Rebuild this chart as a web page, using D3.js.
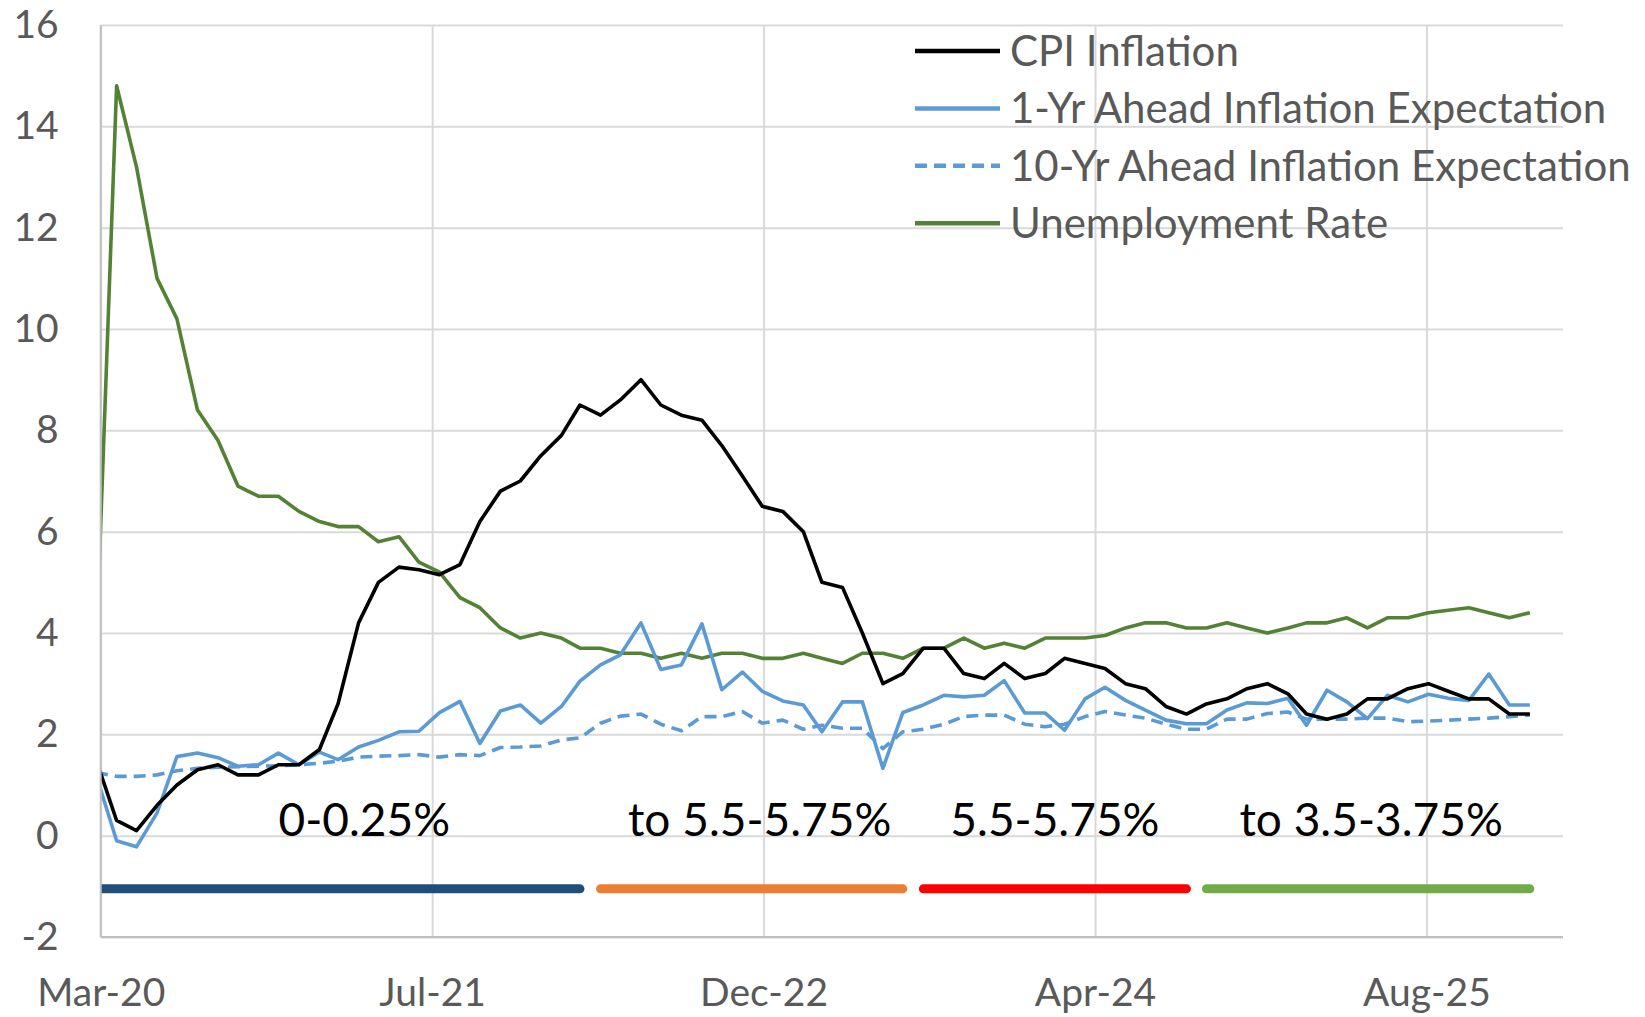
<!DOCTYPE html>
<html lang="en">
<head>
<meta charset="utf-8">
<title>CPI inflation, inflation expectations and unemployment</title>
<script src="https://cdn.jsdelivr.net/npm/d3@7"></script>
<style>
  body { margin: 0; background: #fff; }
  text { font-family: Lato, "Open Sans", sans-serif; }
</style>
</head>
<body>
<script>
// monthly observations, Mar 2020 .. Feb 2026 (72 months)
var months = d3.timeMonth.range(new Date(2020, 2, 1), new Date(2026, 2, 1));

var cpi = [1.5, 0.3, 0.1, 0.6, 1.0, 1.3, 1.4, 1.2, 1.2, 1.4,
    1.4, 1.7, 2.6, 4.2, 5.0, 5.3, 5.25, 5.15, 5.35, 6.2, 6.8, 7.0,
    7.5, 7.9, 8.5, 8.3, 8.6, 9.0, 8.5, 8.3, 8.2, 7.7, 7.1, 6.5,
    6.4, 6.0, 5.0, 4.9, 4.0, 3.0, 3.2, 3.7, 3.7, 3.2, 3.1, 3.4,
    3.1, 3.2, 3.5, 3.4, 3.3, 3.0, 2.9, 2.55, 2.4, 2.6, 2.7, 2.9,
    3.0, 2.8, 2.4, 2.3, 2.4, 2.7, 2.7, 2.9, 3.0, 2.85, 2.7, 2.7,
    2.4, 2.4];

var oneYr = [1.2, -0.1, -0.22, 0.45, 1.56, 1.63, 1.54, 1.37, 1.4, 1.63,
    1.4, 1.65, 1.5, 1.75, 1.88, 2.05, 2.06, 2.43, 2.65, 1.82, 2.46, 2.58,
    2.22, 2.55, 3.05, 3.37, 3.57, 4.2, 3.28, 3.37, 4.18, 2.88, 3.23, 2.85,
    2.66, 2.58, 2.05, 2.64, 2.64, 1.33, 2.43, 2.58, 2.77, 2.74, 2.77, 3.06,
    2.42, 2.42, 2.08, 2.7, 2.93, 2.67, 2.48, 2.28, 2.21, 2.21, 2.48, 2.62,
    2.61, 2.71, 2.18, 2.87, 2.64, 2.31, 2.77, 2.64, 2.79, 2.71, 2.67, 3.19,
    2.58, 2.58];

var tenYr = [1.25, 1.17, 1.17, 1.2, 1.28, 1.33, 1.35, 1.36, 1.37, 1.38,
    1.4, 1.43, 1.47, 1.55, 1.57, 1.58, 1.6, 1.55, 1.6, 1.58, 1.74, 1.75,
    1.77, 1.89, 1.93, 2.22, 2.36, 2.4, 2.2, 2.07, 2.35, 2.35, 2.45, 2.22,
    2.28, 2.1, 2.18, 2.12, 2.12, 1.72, 2.05, 2.1, 2.2, 2.35, 2.38, 2.38,
    2.2, 2.15, 2.2, 2.35, 2.45, 2.38, 2.32, 2.2, 2.1, 2.1, 2.3, 2.3,
    2.41, 2.44, 2.3, 2.3, 2.3, 2.32, 2.32, 2.25, 2.26, 2.28, 2.3, 2.32,
    2.35, 2.38];

var unemp = [3.6, 14.8, 13.2, 11.0, 10.2, 8.4, 7.8, 6.9, 6.7, 6.7,
    6.4, 6.2, 6.1, 6.1, 5.8, 5.9, 5.4, 5.2, 4.7, 4.5, 4.1, 3.9,
    4.0, 3.9, 3.7, 3.7, 3.6, 3.6, 3.5, 3.6, 3.5, 3.6, 3.6, 3.5,
    3.5, 3.6, 3.5, 3.4, 3.6, 3.6, 3.5, 3.7, 3.7, 3.9, 3.7, 3.8,
    3.7, 3.9, 3.9, 3.9, 3.95, 4.1, 4.2, 4.2, 4.1, 4.1, 4.2, 4.1,
    4.0, 4.1, 4.2, 4.2, 4.3, 4.1, 4.3, 4.3, 4.4, 4.45, 4.5, 4.4,
    4.3, 4.4];

var seriesNames = ["CPI Inflation", "1-Yr Ahead Inflation Expectation",
    "10-Yr Ahead Inflation Expectation", "Unemployment Rate"];

// fed funds target range periods, drawn as bars just below zero
var fedLabels = ["0-0.25%", "to 5.5-5.75%", "5.5-5.75%", "to 3.5-3.75%"];
var fedStart = ["2020-03-01", "2022-04-01", "2023-08-01", "2024-10-01"];
var fedEnd = ["2022-03-01", "2023-07-01", "2024-09-01", "2026-02-01"];
var fedLevel = -1.05;

var yTicks = [-2, 0, 2, 4, 6, 8, 10, 12, 14, 16];
var xTickLabels = ["Mar-20", "Jul-21", "Dec-22", "Apr-24", "Aug-25"];

// ---- layout
var W = 1645, H = 1017;
var plotL = 100.7, plotR = 1563, plotT = 25, plotB = 937;

var svg = d3.select("body").append("svg")
    .attr("width", W)
    .attr("height", H)
    .style("display", "block");

svg.append("rect").attr("width", W).attr("height", H).attr("fill", "#fff");

// date axis: starts a week into March 2020, major unit 500 days
var xMin = new Date(2020, 2, 8), xMax = new Date(2026, 2, 23);
var x = d3.scaleTime().domain([xMin, xMax]).range([plotL, plotR]);
var y = d3.scaleLinear().domain([-2, 16]).range([plotB, plotT]);

var tickDates = xTickLabels.map(function(d, i) { return d3.timeDay.offset(xMin, 500 * i); });

// gridlines + labels
var yAxis = d3.axisLeft(y)
    .tickValues(yTicks)
    .tickSize(-(plotR - plotL))
    .tickPadding(42)
    .tickFormat(function(d) { return String(d); }); // plain hyphen for -2

var gy = svg.append("g")
    .attr("transform", "translate(" + plotL + ",0)")
    .call(yAxis);
gy.select(".domain").remove();
gy.selectAll(".tick line").attr("stroke", "#d9d9d9").attr("stroke-width", 2);
gy.selectAll(".tick text")
    .attr("fill", "#595959")
    .style("font-size", "39px")
    .style("font-family", "Lato, sans-serif");

var xAxis = d3.axisBottom(x)
    .tickValues(tickDates)
    .tickSize(-(plotB - plotT))
    .tickPadding(42)
    .tickFormat(function(d, i) { return xTickLabels[i]; });

var gx = svg.append("g")
    .attr("transform", "translate(0," + plotB + ")")
    .call(xAxis);
gx.select(".domain").remove();
gx.selectAll(".tick line").attr("stroke", "#d9d9d9").attr("stroke-width", 2);
gx.selectAll(".tick text")
    .attr("y", 1006 - plotB)
    .attr("dy", null)
    .attr("fill", "#595959")
    .style("font-size", "39px")
    .style("font-family", "Lato, sans-serif");

// axis lines
svg.append("line")
    .attr("x1", plotL).attr("x2", plotR)
    .attr("y1", plotB).attr("y2", plotB)
    .attr("stroke", "#bfbfbf").attr("stroke-width", 2);
svg.append("line")
    .attr("x1", plotL).attr("x2", plotL)
    .attr("y1", plotT).attr("y2", plotB)
    .attr("stroke", "#bfbfbf").attr("stroke-width", 2);

// clip to plot area
svg.append("clipPath").attr("id", "plot")
    .append("rect")
    .attr("x", plotL + 1).attr("y", plotT)
    .attr("width", plotR - plotL).attr("height", plotB - plotT);

var plot = svg.append("g").attr("clip-path", "url(#plot)");

// fed funds bars
var barColors = ["#1f4e79", "#ed7d31", "#ff0000", "#70ad47"];
var parseDay = d3.timeParse("%Y-%m-%d");
fedLabels.forEach(function(lab, i) {
    plot.append("line")
        .attr("x1", x(parseDay(fedStart[i])))
        .attr("x2", x(parseDay(fedEnd[i])))
        .attr("y1", y(fedLevel)).attr("y2", y(fedLevel))
        .attr("stroke", barColors[i])
        .attr("stroke-width", 9)
        .attr("stroke-linecap", "round");
});

// series lines
var styles = [
    { data: cpi, color: "#000000", dash: null },
    { data: oneYr, color: "#5b9bd5", dash: null },
    { data: tenYr, color: "#5b9bd5", dash: "12,7" },
    { data: unemp, color: "#548235", dash: null }
];
var drawOrder = [3, 2, 1, 0];

var line = d3.line()
    .x(function(d, i) { return x(months[i]); })
    .y(function(d) { return y(d); });

drawOrder.forEach(function(k) {
    var s = styles[k];
    plot.append("path")
        .datum(s.data)
        .attr("d", line)
        .attr("fill", "none")
        .attr("stroke", s.color)
        .attr("stroke-width", 3.6)
        .attr("stroke-linejoin", "round")
        .attr("stroke-dasharray", s.dash);
});

// range labels above the bars
var labelShift = [24, 8, 0, 3];
fedLabels.forEach(function(lab, i) {
    var x0 = Math.max(x(parseDay(fedStart[i])), plotL);
    var x1 = x(parseDay(fedEnd[i]));
    svg.append("text")
        .attr("x", (x0 + x1) / 2 + labelShift[i])
        .attr("y", y(0))
        .attr("text-anchor", "middle")
        .attr("fill", "#000")
        .style("font-size", "46px")
        .text(lab);
});

// legend
var legend = svg.append("g").attr("transform", "translate(915,51)");
seriesNames.forEach(function(name, i) {
    var row = legend.append("g").attr("transform", "translate(0," + (i * 57.4) + ")");
    row.append("line")
        .attr("x1", 0).attr("x2", 85)
        .attr("stroke", styles[i].color)
        .attr("stroke-width", 4.5)
        .attr("stroke-dasharray", styles[i].dash);
    row.append("text")
        .attr("x", 95)
        .attr("dy", "0.35em")
        .attr("fill", "#595959")
        .style("font-size", "42px")
        .text(name);
});
</script>
</body>
</html>
